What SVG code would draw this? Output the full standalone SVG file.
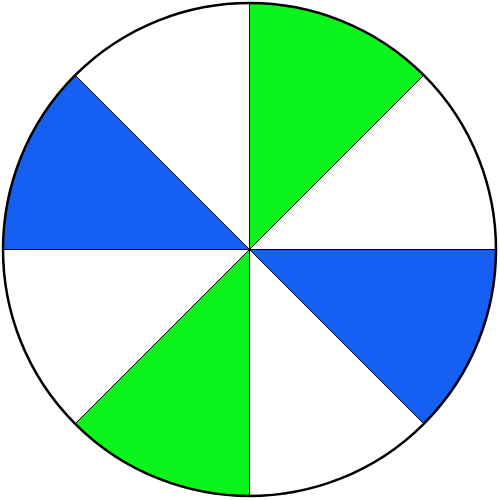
<svg xmlns="http://www.w3.org/2000/svg" width="500" height="500" viewBox="0 0 500 500">
<style>
.s{stroke:#000;stroke-width:1}
.g{fill:#0bf41c}
.b{fill:#1560f2}
.w{fill:#fff}
</style>
<rect width="500" height="500" fill="#fff"/>
<g id="sectors">
<path id="s1" class="s g" d="M249.5,249.5 L249.5,3 A246.5,246.5 0 0 1 423.8,75.2 Z"/>
<path id="s2" class="s w" d="M249.5,249.5 L423.8,75.2 A246.5,246.5 0 0 1 496,249.5 Z"/>
<path id="s3" class="s b" d="M249.5,249.5 L496,249.5 A246.5,246.5 0 0 1 423.8,423.8 Z"/>
<path id="s4" class="s w" d="M249.5,249.5 L423.8,423.8 A246.5,246.5 0 0 1 249.5,496 Z"/>
<path id="s5" class="s g" d="M249.5,249.5 L249.5,496 A246.5,246.5 0 0 1 75.2,423.8 Z"/>
<path id="s6" class="s w" d="M249.5,249.5 L75.2,423.8 A246.5,246.5 0 0 1 3,249.5 Z"/>
<path id="s7" class="s b" d="M249.5,249.5 L3,249.5 A246.5,246.5 0 0 1 75.2,75.2 Z"/>
<path id="s8" class="s w" d="M249.5,249.5 L75.2,75.2 A246.5,246.5 0 0 1 249.5,3 Z"/>
</g>
<circle id="rim" cx="249.5" cy="249.5" r="246.5" fill="none" stroke="#000" stroke-width="2.5"/>
</svg>
